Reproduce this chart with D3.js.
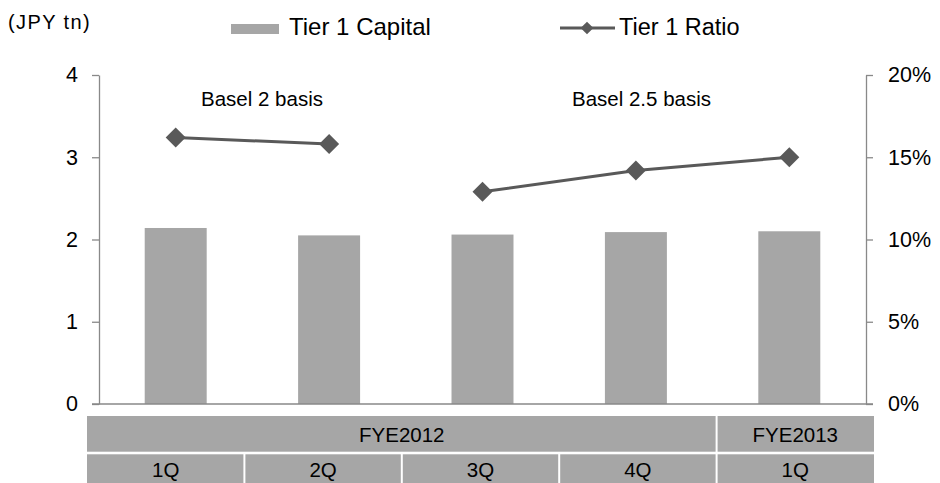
<!DOCTYPE html>
<html>
<head>
<meta charset="utf-8">
<script src="https://cdn.jsdelivr.net/npm/d3@7/dist/d3.min.js"></script>
<style>
  html, body { margin: 0; padding: 0; background: #fff; }
  svg { display: block; font-family: "Liberation Sans", Arial, sans-serif; }
</style>
</head>
<body>
<svg id="chart" width="940" height="483"></svg>
<script>
// Quarterly periods and their fiscal years
const quarters = ["1Q", "2Q", "3Q", "4Q", "1Q"];
const fiscalYears = ["FYE2012", "FYE2012", "FYE2012", "FYE2012", "FYE2013"];
// Tier 1 Capital (JPY tn)
const tier1Capital = [2.14, 2.05, 2.06, 2.09, 2.10];
// Tier 1 Ratio (%)
const tier1Ratio = [16.2, 15.8, 12.9, 14.2, 15.0];
// Regulatory basis of each ratio point (line breaks between bases)
const ratioBasis = ["Basel 2 basis", "Basel 2 basis", "Basel 2.5 basis", "Basel 2.5 basis", "Basel 2.5 basis"];
const leftTicks = [0, 1, 2, 3, 4];
const rightTicks = [0, 5, 10, 15, 20];

const svg = d3.select("#chart");
const barColor = "#a6a6a6";
const lineColor = "#595959";
const axisColor = "#898989";

const plotLeft = 99, plotRight = 866, plotTop = 75, plotBottom = 404;
const idx = d3.range(quarters.length);

const x = d3.scaleBand().domain(idx).range([plotLeft, plotRight])
  .paddingInner(0.596).paddingOuter(0.298);
const yL = d3.scaleLinear().domain([0, 4]).range([plotBottom, plotTop]);
const yR = d3.scaleLinear().domain([0, 20]).range([plotBottom, plotTop]);

// Bars
svg.append("g").selectAll("rect")
  .data(idx).join("rect")
  .attr("x", i => x(i))
  .attr("width", x.bandwidth())
  .attr("y", i => yL(tier1Capital[i]))
  .attr("height", i => yL(0) - yL(tier1Capital[i]))
  .attr("fill", barColor);

// Axes
const styleAxis = g => {
  g.select(".domain").attr("stroke", axisColor).attr("stroke-width", 1.3);
  g.selectAll(".tick line").attr("stroke", axisColor).attr("stroke-width", 1.3);
  g.selectAll(".tick text").attr("fill", "#000").attr("font-size", 21.5)
    .attr("font-family", "'Liberation Sans', Arial, sans-serif");
};
svg.append("g").attr("transform", `translate(${plotLeft},0)`)
  .call(d3.axisLeft(yL).tickValues(leftTicks).tickSize(7).tickPadding(14).tickSizeOuter(0).tickFormat(d3.format("d")))
  .call(styleAxis);
svg.append("g").attr("transform", `translate(${plotRight},0)`)
  .call(d3.axisRight(yR).tickValues(rightTicks).tickSize(7).tickPadding(15).tickSizeOuter(0).tickFormat(d => d + "%"))
  .call(styleAxis);
svg.append("line")
  .attr("x1", plotLeft - 7).attr("x2", plotRight + 7)
  .attr("y1", yL(0)).attr("y2", yL(0))
  .attr("stroke", axisColor).attr("stroke-width", 1.3);

// Ratio line, drawn per regulatory basis
const cx = i => x(i) + x.bandwidth() / 2;
const line = d3.line().x(i => cx(i)).y(i => yR(tier1Ratio[i]));
const groups = d3.groups(idx, i => ratioBasis[i]);
svg.append("g").selectAll("path")
  .data(groups).join("path")
  .attr("d", g => line(g[1]))
  .attr("fill", "none").attr("stroke", lineColor).attr("stroke-width", 3);

const diamond = d3.symbol().type(d3.symbolSquare).size(200);
svg.append("g").selectAll("path")
  .data(idx).join("path")
  .attr("d", diamond)
  .attr("transform", i => `translate(${cx(i)},${yR(tier1Ratio[i])}) rotate(45)`)
  .attr("fill", lineColor);

// Basis annotations
const basisLabelPos = { "Basel 2 basis": 262, "Basel 2.5 basis": 641.5 };
svg.append("g").selectAll("text")
  .data(groups).join("text")
  .attr("x", g => basisLabelPos[g[0]])
  .attr("y", 106)
  .attr("text-anchor", "middle")
  .attr("font-size", 20.5)
  .text(g => g[0]);

// Unit label
svg.append("text").attr("x", 8).attr("y", 29)
  .attr("font-size", 20).attr("letter-spacing", 1.4).text("(JPY tn)");

// Legend
const lg = svg.append("g");
lg.append("rect").attr("x", 231).attr("y", 24).attr("width", 48).attr("height", 10).attr("fill", barColor);
lg.append("text").attr("x", 289).attr("y", 35).attr("font-size", 24).text("Tier 1 Capital");
lg.append("line").attr("x1", 560).attr("x2", 615).attr("y1", 28).attr("y2", 28)
  .attr("stroke", lineColor).attr("stroke-width", 3);
lg.append("path").attr("d", d3.symbol().type(d3.symbolSquare).size(81))
  .attr("transform", "translate(587,28) rotate(45)").attr("fill", lineColor);
lg.append("text").attr("x", 619).attr("y", 35).attr("font-size", 23.5).text("Tier 1 Ratio");

// Period table below the plot
const tx = d3.scaleBand().domain(idx).range([87, 874]);
const row1Top = 416, row1H = 35.7, row2Top = 454.3, row2H = 40;
const fyGroups = d3.groups(idx, i => fiscalYears[i]);
const table = svg.append("g");
table.selectAll("rect.fy").data(fyGroups).join("rect").attr("class", "fy")
  .attr("x", g => tx(g[1][0]) + (g[1][0] === 0 ? 0 : 1))
  .attr("width", g => tx(g[1][g[1].length - 1]) + tx.bandwidth() - tx(g[1][0]) - 1)
  .attr("y", row1Top).attr("height", row1H).attr("fill", barColor);
table.selectAll("text.fy").data(fyGroups).join("text").attr("class", "fy")
  .attr("x", g => (tx(g[1][0]) + tx(g[1][g[1].length - 1]) + tx.bandwidth()) / 2)
  .attr("y", 441.5).attr("text-anchor", "middle").attr("font-size", 20.5)
  .text(g => g[0]);
table.selectAll("rect.q").data(idx).join("rect").attr("class", "q")
  .attr("x", i => tx(i) + (i === 0 ? 0 : 1))
  .attr("width", i => tx.bandwidth() - (i === 0 ? 1 : 2) + (i === idx.length - 1 ? 1 : 0))
  .attr("y", row2Top).attr("height", row2H).attr("fill", barColor);
table.selectAll("text.q").data(idx).join("text").attr("class", "q")
  .attr("x", i => tx(i) + tx.bandwidth() / 2)
  .attr("y", 477).attr("text-anchor", "middle").attr("font-size", 20.5)
  .text(i => quarters[i]);
</script>
</body>
</html>
